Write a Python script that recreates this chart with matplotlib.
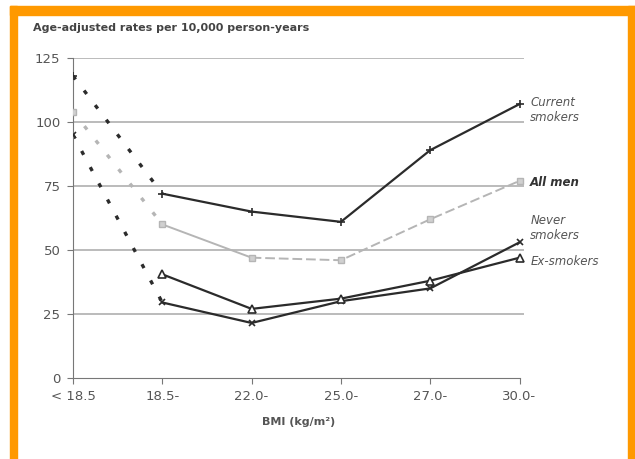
import matplotlib

matplotlib.use("Agg")
import matplotlib.pyplot as plt
from matplotlib.patches import Rectangle

BMI_LABELS = ["< 18.5", "18.5-", "22.0-", "25.0-", "27.0-", "30.0-"]
CURRENT = [118, 72, 65, 61, 89, 107]
ALL_MEN = [104, 60, 47, 46, 62, 77]
NEVER = [95, 29.5, 21.5, 30, 35, 53]
EX = [None, 40.5, 27, 31, 38, 47]
Y_TICKS = [0, 25, 50, 75, 100, 125]

DARK = "#2b2b2b"
LIGHT = "#b5b5b5"
TEXT = "#555555"
DOTS = (0, (1.3, 4.2))

fig = plt.figure(figsize=(6.35, 4.59), dpi=100)
fig.patches.append(Rectangle((10 / 635, 0), 7 / 635, 1 - 6 / 459, transform=fig.transFigure,
                             color="#ff9900", zorder=0))
fig.patches.append(Rectangle((10 / 635, 1 - 15 / 459), 625 / 635, 9 / 459, transform=fig.transFigure,
                             color="#ff9900", zorder=0))
fig.patches.append(Rectangle((628 / 635, 0), 7 / 635, 1 - 6 / 459, transform=fig.transFigure,
                             color="#ff9900", zorder=0))

ax = fig.add_axes([73 / 635, 1 - 378 / 459, 451 / 635, 320 / 459])
ax.set_xlim(0, 5.05)
ax.set_ylim(0, 125)
for side in ["top", "right"]:
    ax.spines[side].set_visible(False)
ax.spines["left"].set_color("#777777")
ax.spines["bottom"].set_color("#777777")
ax.spines["bottom"].set_bounds(0, 5)
for y in Y_TICKS[1:]:
    ax.axhline(y, color="#a8a8a8", linewidth=1.1, zorder=1)

x = list(range(len(BMI_LABELS)))


def plot_series(values, color, marker, mfc, ms, lw, style_rest="-"):
    pts = [(i, v) for i, v in zip(x, values) if v is not None]
    xs = [p[0] for p in pts]
    ys = [p[1] for p in pts]
    if xs[0] == 0:
        ax.plot(xs[:2], ys[:2], color=color, linestyle=DOTS, linewidth=2.4, zorder=2)
    start = 1 if xs[0] == 0 else 0
    ax.plot(xs[start:], ys[start:], color=color, linestyle=style_rest, linewidth=lw, zorder=3)
    ax.plot(xs, ys, linestyle="none", marker=marker, color=color, mfc=mfc, ms=ms, mew=1.2, zorder=4)


plot_series(CURRENT, DARK, "+", DARK, 6, 1.6)
# all men: solid first segment, dashed afterwards
ax.plot([0, 1], ALL_MEN[:2], color=LIGHT, linestyle=DOTS, linewidth=2.4, zorder=2)
ax.plot([1, 2], ALL_MEN[1:3], color=LIGHT, linewidth=1.4, zorder=3)
ax.plot(x[2:], ALL_MEN[2:], color=LIGHT, linestyle=(0, (5, 2)), linewidth=1.4, zorder=3)
ax.plot(x, ALL_MEN, linestyle="none", marker="s", color=LIGHT, mfc="#d0d0d0", ms=5, zorder=4)
plot_series(NEVER, DARK, "x", DARK, 5, 1.6)
plot_series(EX, DARK, "^", "white", 6, 1.6)

ax.set_xticks(x)
ax.set_xticklabels(BMI_LABELS, color=TEXT, fontsize=9.5)
ax.set_yticks(Y_TICKS)
ax.set_yticklabels([str(v) for v in Y_TICKS], color=TEXT, fontsize=9.5)
ax.tick_params(axis="both", length=4, color="#777777", pad=5)
ax.set_xlabel("BMI (kg/m²)", color=TEXT, fontsize=8, fontweight="bold", labelpad=10)

fig.text(33 / 635, 1 - 28 / 459, "Age-adjusted rates per 10,000 person-years", color="#444444",
         fontsize=8, fontweight="bold", va="center", ha="left")

ax.text(5.12, 110, "Current\nsmokers", color=TEXT, fontsize=8.5, style="italic", va="top", ha="left")
ax.text(5.12, 76.5, "All men", color="#333333", fontsize=8.5, style="italic", fontweight="bold",
        va="center", ha="left")
ax.text(5.12, 64, "Never\nsmokers", color=TEXT, fontsize=8.5, style="italic", va="top", ha="left")
ax.text(5.12, 45.5, "Ex-smokers", color=TEXT, fontsize=8.5, style="italic", va="center", ha="left")

fig.savefig("out.png", dpi=100)
